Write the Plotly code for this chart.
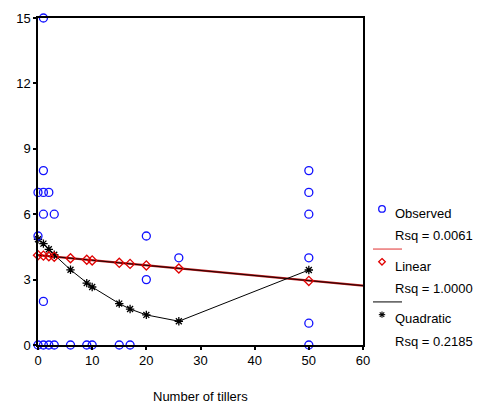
import plotly.graph_objects as go

# Observed data (Number of tillers vs response)
obs_x = [0, 0, 0,
         1, 1, 1, 1, 1, 1,
         2, 2,
         3, 3,
         6, 9, 10, 15, 17,
         20, 20,
         26,
         50, 50, 50, 50, 50, 50]
obs_y = [0, 5, 7,
         0, 2, 6, 7, 8, 15,
         0, 7,
         0, 6,
         0, 0, 0, 0, 0,
         3, 5,
         4,
         0, 1, 4, 6, 7, 8]

# Fitted values
fit_x = [0, 1, 2, 3, 6, 9, 10, 15, 17, 20, 26, 50]
lin_y = [4.12, 4.10, 4.07, 4.05, 3.98, 3.91, 3.88, 3.77, 3.72, 3.65, 3.51, 2.94]
quad_y = [4.85, 4.65, 4.39, 4.14, 3.45, 2.84, 2.66, 1.90, 1.65, 1.38, 1.09, 3.44]

# Linear fit line end points (drawn across full axis)
lin_line_x = [0, 60]
lin_line_y = [4.12, 2.72]

x_ticks = [0, 10, 20, 30, 40, 50, 60]
y_ticks = [0, 3, 6, 9, 12, 15]

legend_labels = ["Observed", "Rsq = 0.0061", "Linear", "Rsq = 1.0000", "Quadratic", "Rsq = 0.2185"]

FONT = "Liberation Sans, Arial, sans-serif"
FS = 13

fig = go.Figure()

# Linear fit line (dark red/black)
fig.add_trace(go.Scatter(x=lin_line_x, y=lin_line_y, mode="lines",
                         line=dict(color="#c02020", width=2.2), hoverinfo="skip"))
fig.add_trace(go.Scatter(x=lin_line_x, y=lin_line_y, mode="lines",
                         line=dict(color="#200000", width=1), hoverinfo="skip"))

# Quadratic fit line with asterisks
fig.add_trace(go.Scatter(x=fit_x, y=quad_y, mode="lines+markers",
                         line=dict(color="black", width=1),
                         marker=dict(symbol="asterisk-open", size=7, color="black",
                                     line=dict(color="black", width=1.3)),
                         cliponaxis=False))

# Linear fitted points (diamonds)
fig.add_trace(go.Scatter(x=fit_x, y=lin_y, mode="markers",
                         marker=dict(symbol="diamond-open", size=7, color="#e00000",
                                     line=dict(color="#e00000", width=1.3)),
                         cliponaxis=False))

# Observed points
fig.add_trace(go.Scatter(x=obs_x, y=obs_y, mode="markers",
                         marker=dict(symbol="circle-open", size=8, color="#1010ff",
                                     line=dict(color="#1010ff", width=1.3)),
                         cliponaxis=False))

# Custom legend (pixel positions converted to paper coordinates)
W, H = 479, 407
ml, mr, mt, mb = 38, 116, 11, 62
pw, ph = W - ml - mr, H - mt - mb

def px(xp):
    return (xp - ml) / pw

def py(yp):
    return 1 - (yp - mt) / ph

# circle sample
cx, cy, r = 382, 206, 3.3
fig.add_shape(type="circle", xref="paper", yref="paper",
              x0=px(cx - r), x1=px(cx + r), y0=py(cy + r), y1=py(cy - r),
              line=dict(color="#1010ff", width=1.3))
# diamond sample
dx, dy, d = 382, 260, 3.3
fig.add_shape(type="path", xref="paper", yref="paper",
              path=f"M {px(dx)} {py(dy - d)} L {px(dx + d)} {py(dy)} L {px(dx)} {py(dy + d)} L {px(dx - d)} {py(dy)} Z",
              line=dict(color="#e00000", width=1.3))
# asterisk sample
ax_, ay_, a = 382, 314, 3.2
for (x0, y0, x1, y1) in [(-a, 0, a, 0), (0, -a, 0, a), (-a * 0.7, -a * 0.7, a * 0.7, a * 0.7),
                         (-a * 0.7, a * 0.7, a * 0.7, -a * 0.7)]:
    fig.add_shape(type="line", xref="paper", yref="paper",
                  x0=px(ax_ + x0), y0=py(ay_ + y0), x1=px(ax_ + x1), y1=py(ay_ + y1),
                  line=dict(color="black", width=1.1))

fig.add_shape(type="line", xref="paper", yref="paper", x0=px(373), x1=px(402),
              y0=py(247), y1=py(247), line=dict(color="#e03030", width=1))
fig.add_shape(type="line", xref="paper", yref="paper", x0=px(373), x1=px(402),
              y0=py(301), y1=py(301), line=dict(color="black", width=1))

label_y = [211, 233, 265, 287, 318, 341]
for lab, yy in zip(legend_labels, label_y):
    fig.add_annotation(x=px(393), y=py(yy), xref="paper", yref="paper", text=lab,
                       showarrow=False, xanchor="left", yanchor="middle",
                       font=dict(family=FONT, size=FS, color="black"))

fig.add_annotation(x=0.5, y=py(398), xref="paper", yref="paper", text="Number of tillers",
                   showarrow=False, xanchor="center", yanchor="middle",
                   font=dict(family=FONT, size=FS, color="black"))

fig.update_layout(
    width=W, height=H,
    margin=dict(l=ml, r=mr, t=mt, b=mb),
    paper_bgcolor="white", plot_bgcolor="white",
    showlegend=False,
    font=dict(family=FONT, size=FS, color="black"),
    xaxis=dict(range=[0, 60], tickvals=x_ticks, ticktext=[str(v) for v in x_ticks],
               showgrid=False, zeroline=False, showline=True, linecolor="black",
               linewidth=1.5, mirror=True, ticks="outside", ticklen=3, tickwidth=2,
               tickcolor="black", tickfont=dict(family=FONT, size=FS)),
    yaxis=dict(range=[0, 15], tickvals=y_ticks, ticktext=[str(v) for v in y_ticks],
               showgrid=False, zeroline=False, showline=True, linecolor="black",
               linewidth=1.5, mirror=True, ticks="outside", ticklen=3, tickwidth=2,
               tickcolor="black", tickfont=dict(family=FONT, size=FS)),
)

fig.write_html("out.html", config={"displayModeBar": False})
